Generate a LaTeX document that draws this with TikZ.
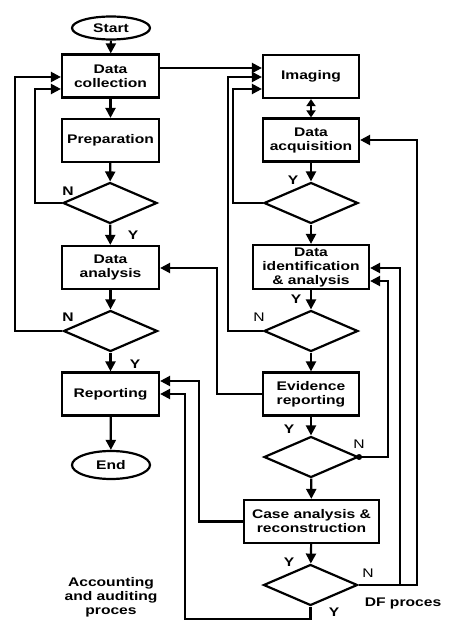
\documentclass[tikz,border=0pt]{standalone}
\usepackage{fontspec}
\setmainfont{Liberation Sans}[FakeStretch=1.25]
\usetikzlibrary{arrows.meta,shapes.geometric}
\newcommand\fsz{\fontsize{12.5}{14}\selectfont}
\begin{document}
\begin{tikzpicture}[x=1pt,y=-1pt,line width=2.2pt,
 box/.style={draw,font=\fsz\bfseries,align=center,minimum width=96pt,minimum height=43pt,inner sep=1pt},
 dia/.style={draw,diamond,minimum width=94pt,minimum height=41pt,inner sep=0pt},
 oval/.style={draw,ellipse,font=\fsz\bfseries,minimum width=78pt,inner sep=0pt},
 arr/.style={-{Triangle[length=10pt,width=10pt]}},
 lbl/.style={font=\fsz\bfseries},
 nlbl/.style={font=\fsz}]
\useasboundingbox (0,0) rectangle (474,636);
% accounting and auditing
\node[oval,minimum height=23pt] (start) at (111,28) {Start};
\node[box,minimum width=97pt] (collect) at (110.5,76) {Data\\collection};
\node[box,minimum width=97pt] (prep) at (110.5,140.5) {Preparation};
\node[dia] (d1) at (110,203) {};
\node[box,minimum width=97pt] (analysis) at (110.5,267.5) {Data\\analysis};
\node[dia] (d3) at (110.5,331) {};
\node[box,minimum width=97pt] (report) at (110.5,394) {Reporting};
\node[oval,minimum height=28pt] (end) at (111,465) {End};
% DF
\node[box] (imaging) at (311,76.5) {Imaging};
\node[box] (acq) at (311,140) {Data\\acquisition};
\node[dia] (d2) at (311,203) {};
\node[box,minimum width=116pt,minimum height=44pt] (ident) at (311,267) {Data\\identification\\\& analysis};
\node[dia] (d4) at (311,331) {};
\node[box] (evid) at (311,394) {Evidence\\reporting};
\node[dia] (d5) at (311,457) {};
\node[box,minimum width=135pt] (case) at (311.5,521.5) {Case analysis \&\\reconstruction};
\node[dia] (d6) at (310.5,585) {};
\draw[arr] (start) -- (collect);
\draw[arr] (collect) -- (prep);
\draw[arr] (prep) -- (d1);
\draw[arr] (d1) -- (analysis);
\draw[arr] (analysis) -- (d3);
\draw[arr] (d3) -- (report);
\draw[arr] (report) -- (end);
\draw[arr] (d1.west) -| (35,89) -- (collect.west |- 0,89);
\draw[arr] (d3.west) -| (15,77) -- (collect.west |- 0,77);
\draw[arr] ([yshift=8pt]collect.east) -- (imaging.west |- 0,68);
\draw[arr] (d4.west) -| (228,77) -- (imaging.west |- 0,77);
\draw[arr] (d2.west) -| (233,89) -- (imaging.west |- 0,89);
\draw[{Triangle[length=7pt,width=9pt]}-{Triangle[length=7pt,width=9pt]}] (imaging) -- (acq);
\draw[arr] (acq) -- (d2);
\draw[arr] (d2) -- (ident);
\draw[arr] (ident) -- (d4);
\draw[arr] (d4) -- (evid);
\draw[arr] (evid) -- (d5);
\draw[arr] (d5) -- (case);
\draw[arr] (case) -- (d6);
\draw[arr] (evid.west) -| (217,268) -- (analysis.east |- 0,268);
\draw[arr] (case.west) -| (199,381) -- (report.east |- 0,381);
\draw[arr] (d6.south) |- (185,619) -- (185,394) -- (report.east |- 0,394);
\draw[arr] (d6.east) -| (417,140) -- (acq.east |- 0,140);
\draw[arr] (400,585) -- (400,268) -- (ident.east |- 0,268);
\draw[arr] (d5.east) -| (388,281) -- (ident.east |- 0,281);
\fill (d5.east) circle (3pt);
% labels
\node[lbl] at (68,191) {N};
\node[lbl] at (133,235) {Y};
\node[lbl] at (68,317) {N};
\node[lbl] at (135,364) {Y};
\node[lbl] at (293,180) {Y};
\node[lbl] at (296,299) {Y};
\node[nlbl] at (259,317) {N};
\node[lbl] at (289,429) {Y};
\node[nlbl] at (359,444) {N};
\node[lbl] at (289,562) {Y};
\node[nlbl] at (368,573) {N};
\node[lbl] at (334,612) {Y};
\node[lbl,align=center] (acct) at (111,597) {Accounting\\and auditing\\proces};
\node[lbl] (dfp) at (403,603) {DF proces};
\end{tikzpicture}
\end{document}
